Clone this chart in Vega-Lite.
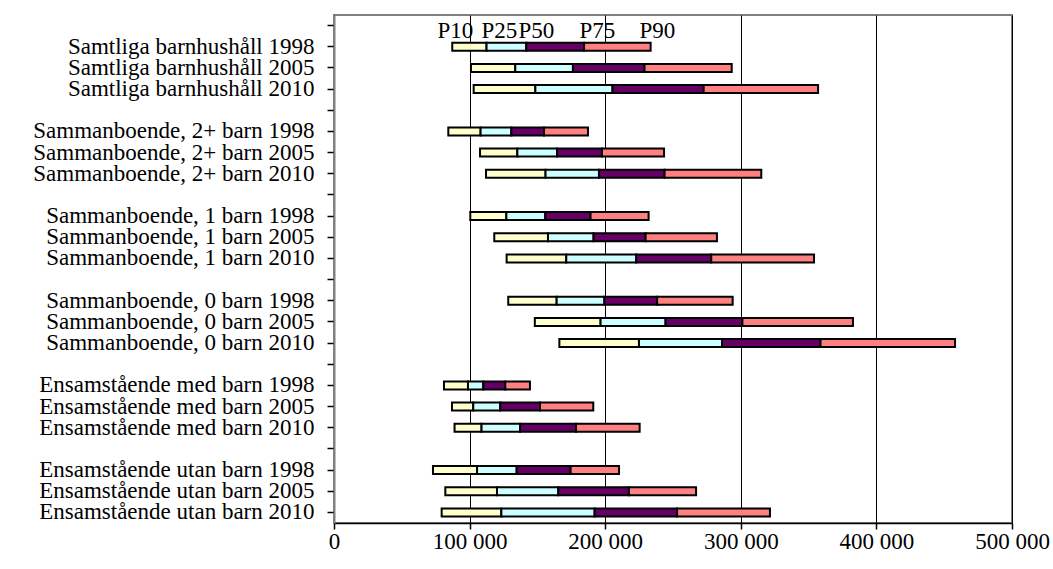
{
  "$schema": "https://vega.github.io/schema/vega-lite/v6.json",
  "width": 678,
  "height": 508,
  "padding": {"left": 32, "top": 14, "right": 5, "bottom": 5},
  "background": "white",
  "config": {
    "view": {"stroke": "#808080", "strokeWidth": 2},
    "font": "Liberation Serif",
    "axisX": {
      "grid": true, "gridColor": "#000000", "gridWidth": 1,
      "domainColor": "#000000", "domainWidth": 1.5,
      "tickColor": "#000000", "tickSize": 6, "tickWidth": 1.5,
      "labelFont": "Liberation Serif", "labelFontSize": 23, "labelColor": "#000000",
      "labelPadding": 1, "labelFlush": false, "labelOverlap": false
    },
    "axisY": {
      "grid": false,
      "domainColor": "#808080", "domainWidth": 2,
      "tickColor": "#000000", "tickSize": 7, "tickWidth": 1.5,
      "labelFont": "Liberation Serif", "labelFontSize": 23, "labelColor": "#000000",
      "labelPadding": 13, "labelLimit": 400, "labelOverlap": false
    }
  },
  "layer": [
    {
      "data": {"values": [
        {"cat": "Samtliga barnhushåll 1998", "seg": "P10-P25", "lo": 87200, "hi": 112500},
        {"cat": "Samtliga barnhushåll 1998", "seg": "P25-P50", "lo": 112500, "hi": 141800},
        {"cat": "Samtliga barnhushåll 1998", "seg": "P50-P75", "lo": 141800, "hi": 184400},
        {"cat": "Samtliga barnhushåll 1998", "seg": "P75-P90", "lo": 184400, "hi": 233500},
        {"cat": "Samtliga barnhushåll 2005", "seg": "P10-P25", "lo": 101000, "hi": 133700},
        {"cat": "Samtliga barnhushåll 2005", "seg": "P25-P50", "lo": 133700, "hi": 176200},
        {"cat": "Samtliga barnhushåll 2005", "seg": "P50-P75", "lo": 176200, "hi": 229000},
        {"cat": "Samtliga barnhushåll 2005", "seg": "P75-P90", "lo": 229000, "hi": 293300},
        {"cat": "Samtliga barnhushåll 2010", "seg": "P10-P25", "lo": 103000, "hi": 148500},
        {"cat": "Samtliga barnhushåll 2010", "seg": "P25-P50", "lo": 148500, "hi": 205400},
        {"cat": "Samtliga barnhushåll 2010", "seg": "P50-P75", "lo": 205400, "hi": 272600},
        {"cat": "Samtliga barnhushåll 2010", "seg": "P75-P90", "lo": 272600, "hi": 357000},
        {"cat": "Sammanboende, 2+ barn 1998", "seg": "P10-P25", "lo": 84300, "hi": 108100},
        {"cat": "Sammanboende, 2+ barn 1998", "seg": "P25-P50", "lo": 108100, "hi": 130800},
        {"cat": "Sammanboende, 2+ barn 1998", "seg": "P50-P75", "lo": 130800, "hi": 154900},
        {"cat": "Sammanboende, 2+ barn 1998", "seg": "P75-P90", "lo": 154900, "hi": 187300},
        {"cat": "Sammanboende, 2+ barn 2005", "seg": "P10-P25", "lo": 107700, "hi": 135200},
        {"cat": "Sammanboende, 2+ barn 2005", "seg": "P25-P50", "lo": 135200, "hi": 164500},
        {"cat": "Sammanboende, 2+ barn 2005", "seg": "P50-P75", "lo": 164500, "hi": 197600},
        {"cat": "Sammanboende, 2+ barn 2005", "seg": "P75-P90", "lo": 197600, "hi": 243400},
        {"cat": "Sammanboende, 2+ barn 2010", "seg": "P10-P25", "lo": 112100, "hi": 156000},
        {"cat": "Sammanboende, 2+ barn 2010", "seg": "P25-P50", "lo": 156000, "hi": 195400},
        {"cat": "Sammanboende, 2+ barn 2010", "seg": "P50-P75", "lo": 195400, "hi": 243800},
        {"cat": "Sammanboende, 2+ barn 2010", "seg": "P75-P90", "lo": 243800, "hi": 315100},
        {"cat": "Sammanboende, 1 barn 1998", "seg": "P10-P25", "lo": 100500, "hi": 127100},
        {"cat": "Sammanboende, 1 barn 1998", "seg": "P25-P50", "lo": 127100, "hi": 155800},
        {"cat": "Sammanboende, 1 barn 1998", "seg": "P50-P75", "lo": 155800, "hi": 189200},
        {"cat": "Sammanboende, 1 barn 1998", "seg": "P75-P90", "lo": 189200, "hi": 232000},
        {"cat": "Sammanboende, 1 barn 2005", "seg": "P10-P25", "lo": 118200, "hi": 157800},
        {"cat": "Sammanboende, 1 barn 2005", "seg": "P25-P50", "lo": 157800, "hi": 191400},
        {"cat": "Sammanboende, 1 barn 2005", "seg": "P50-P75", "lo": 191400, "hi": 229800},
        {"cat": "Sammanboende, 1 barn 2005", "seg": "P75-P90", "lo": 229800, "hi": 282400},
        {"cat": "Sammanboende, 1 barn 2010", "seg": "P10-P25", "lo": 127300, "hi": 171300},
        {"cat": "Sammanboende, 1 barn 2010", "seg": "P25-P50", "lo": 171300, "hi": 222900},
        {"cat": "Sammanboende, 1 barn 2010", "seg": "P50-P75", "lo": 222900, "hi": 278200},
        {"cat": "Sammanboende, 1 barn 2010", "seg": "P75-P90", "lo": 278200, "hi": 354000},
        {"cat": "Sammanboende, 0 barn 1998", "seg": "P10-P25", "lo": 128500, "hi": 164200},
        {"cat": "Sammanboende, 0 barn 1998", "seg": "P25-P50", "lo": 164200, "hi": 199400},
        {"cat": "Sammanboende, 0 barn 1998", "seg": "P50-P75", "lo": 199400, "hi": 238300},
        {"cat": "Sammanboende, 0 barn 1998", "seg": "P75-P90", "lo": 238300, "hi": 294000},
        {"cat": "Sammanboende, 0 barn 2005", "seg": "P10-P25", "lo": 148100, "hi": 196600},
        {"cat": "Sammanboende, 0 barn 2005", "seg": "P25-P50", "lo": 196600, "hi": 244500},
        {"cat": "Sammanboende, 0 barn 2005", "seg": "P50-P75", "lo": 244500, "hi": 301200},
        {"cat": "Sammanboende, 0 barn 2005", "seg": "P75-P90", "lo": 301200, "hi": 382700},
        {"cat": "Sammanboende, 0 barn 2010", "seg": "P10-P25", "lo": 166200, "hi": 224900},
        {"cat": "Sammanboende, 0 barn 2010", "seg": "P25-P50", "lo": 224900, "hi": 286200},
        {"cat": "Sammanboende, 0 barn 2010", "seg": "P50-P75", "lo": 286200, "hi": 358800},
        {"cat": "Sammanboende, 0 barn 2010", "seg": "P75-P90", "lo": 358800, "hi": 458000},
        {"cat": "Ensamstående med barn 1998", "seg": "P10-P25", "lo": 81100, "hi": 98800},
        {"cat": "Ensamstående med barn 1998", "seg": "P25-P50", "lo": 98800, "hi": 110100},
        {"cat": "Ensamstående med barn 1998", "seg": "P50-P75", "lo": 110100, "hi": 126300},
        {"cat": "Ensamstående med barn 1998", "seg": "P75-P90", "lo": 126300, "hi": 144500},
        {"cat": "Ensamstående med barn 2005", "seg": "P10-P25", "lo": 87000, "hi": 102700},
        {"cat": "Ensamstående med barn 2005", "seg": "P25-P50", "lo": 102700, "hi": 122600},
        {"cat": "Ensamstående med barn 2005", "seg": "P50-P75", "lo": 122600, "hi": 151900},
        {"cat": "Ensamstående med barn 2005", "seg": "P75-P90", "lo": 151900, "hi": 191200},
        {"cat": "Ensamstående med barn 2010", "seg": "P10-P25", "lo": 88900, "hi": 108800},
        {"cat": "Ensamstående med barn 2010", "seg": "P25-P50", "lo": 108800, "hi": 137200},
        {"cat": "Ensamstående med barn 2010", "seg": "P50-P75", "lo": 137200, "hi": 178500},
        {"cat": "Ensamstående med barn 2010", "seg": "P75-P90", "lo": 178500, "hi": 225400},
        {"cat": "Ensamstående utan barn 1998", "seg": "P10-P25", "lo": 73000, "hi": 105500},
        {"cat": "Ensamstående utan barn 1998", "seg": "P25-P50", "lo": 105500, "hi": 134700},
        {"cat": "Ensamstående utan barn 1998", "seg": "P50-P75", "lo": 134700, "hi": 174500},
        {"cat": "Ensamstående utan barn 1998", "seg": "P75-P90", "lo": 174500, "hi": 210200},
        {"cat": "Ensamstående utan barn 2005", "seg": "P10-P25", "lo": 82100, "hi": 120200},
        {"cat": "Ensamstående utan barn 2005", "seg": "P25-P50", "lo": 120200, "hi": 165400},
        {"cat": "Ensamstående utan barn 2005", "seg": "P50-P75", "lo": 165400, "hi": 217500},
        {"cat": "Ensamstående utan barn 2005", "seg": "P75-P90", "lo": 217500, "hi": 267000},
        {"cat": "Ensamstående utan barn 2010", "seg": "P10-P25", "lo": 79400, "hi": 123400},
        {"cat": "Ensamstående utan barn 2010", "seg": "P25-P50", "lo": 123400, "hi": 192200},
        {"cat": "Ensamstående utan barn 2010", "seg": "P50-P75", "lo": 192200, "hi": 253000},
        {"cat": "Ensamstående utan barn 2010", "seg": "P75-P90", "lo": 253000, "hi": 321500}
      ]},
      "mark": {"type": "bar", "size": 8, "stroke": "#000000", "strokeWidth": 2},
      "encoding": {
        "y": {
          "field": "cat", "type": "nominal", "title": null,
          "scale": {
            "domain": ["_top",
              "Samtliga barnhushåll 1998", "Samtliga barnhushåll 2005", "Samtliga barnhushåll 2010", "_b1",
              "Sammanboende, 2+ barn 1998", "Sammanboende, 2+ barn 2005", "Sammanboende, 2+ barn 2010", "_b2",
              "Sammanboende, 1 barn 1998", "Sammanboende, 1 barn 2005", "Sammanboende, 1 barn 2010", "_b3",
              "Sammanboende, 0 barn 1998", "Sammanboende, 0 barn 2005", "Sammanboende, 0 barn 2010", "_b4",
              "Ensamstående med barn 1998", "Ensamstående med barn 2005", "Ensamstående med barn 2010", "_b5",
              "Ensamstående utan barn 1998", "Ensamstående utan barn 2005", "Ensamstående utan barn 2010"],
            "paddingInner": 0, "paddingOuter": 0
          },
          "axis": {"labelExpr": "indexof(datum.value, '_') == 0 ? '' : datum.value"}
        },
        "x": {"field": "lo", "type": "quantitative", "title": null,
              "scale": {"domain": [0, 500000], "nice": false},
              "axis": {"values": [0, 100000, 200000, 300000, 400000, 500000],
                       "labelExpr": "replace(format(datum.value, ','), ',', ' ')"}},
        "x2": {"field": "hi"},
        "color": {"field": "seg", "type": "nominal", "legend": null,
                  "scale": {"domain": ["P10-P25", "P25-P50", "P50-P75", "P75-P90"],
                            "range": ["#FFFFCC", "#CCFFFF", "#660066", "#FF8080"]}}
      }
    },
    {
      "data": {"values": [
        {"cat": "_top", "label": "P10", "pos": 89500},
        {"cat": "_top", "label": "P25", "pos": 121900},
        {"cat": "_top", "label": "P50", "pos": 149200},
        {"cat": "_top", "label": "P75", "pos": 194200},
        {"cat": "_top", "label": "P90", "pos": 238400}
      ]},
      "mark": {"type": "text", "font": "Liberation Serif", "fontSize": 23, "color": "#000000",
               "align": "center", "baseline": "middle", "dy": 5},
      "encoding": {
        "x": {"field": "pos", "type": "quantitative"},
        "y": {"field": "cat", "type": "nominal"},
        "text": {"field": "label"}
      }
    }
  ]
}
